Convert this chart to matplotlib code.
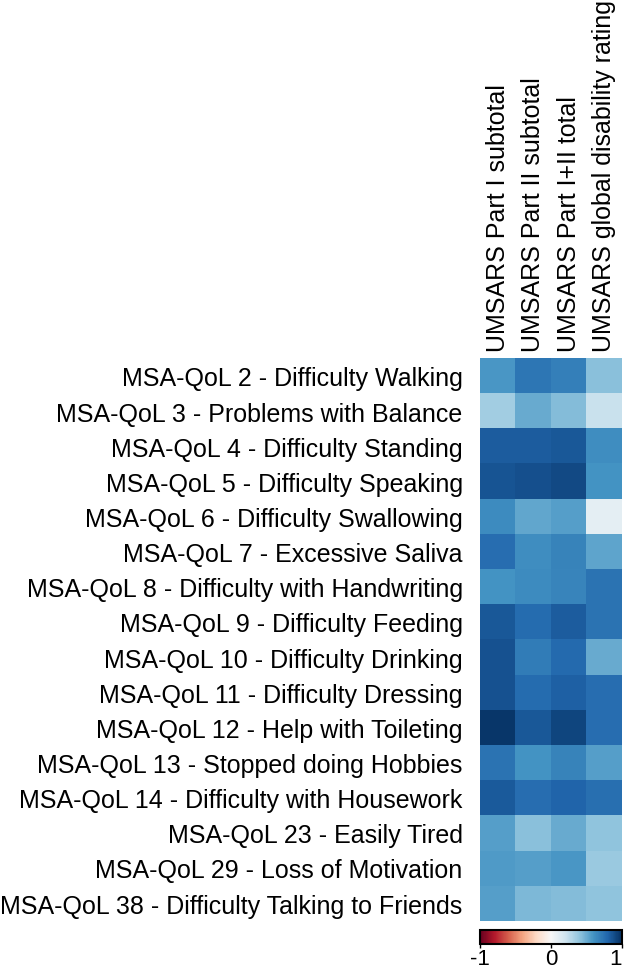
import matplotlib
matplotlib.use("Agg")
import matplotlib.pyplot as plt
import numpy as np

rows = [
    "MSA-QoL 2 - Difficulty Walking",
    "MSA-QoL 3 - Problems with Balance",
    "MSA-QoL 4 - Difficulty Standing",
    "MSA-QoL 5 - Difficulty Speaking",
    "MSA-QoL 6 - Difficulty Swallowing",
    "MSA-QoL 7 - Excessive Saliva",
    "MSA-QoL 8 - Difficulty with Handwriting",
    "MSA-QoL 9 - Difficulty Feeding",
    "MSA-QoL 10 - Difficulty Drinking",
    "MSA-QoL 11 - Difficulty Dressing",
    "MSA-QoL 12 - Help with Toileting",
    "MSA-QoL 13 - Stopped doing Hobbies",
    "MSA-QoL 14 - Difficulty with Housework",
    "MSA-QoL 23 - Easily Tired",
    "MSA-QoL 29 - Loss of Motivation",
    "MSA-QoL 38 - Difficulty Talking to Friends",
]
cols = [
    "UMSARS Part I subtotal",
    "UMSARS Part II subtotal",
    "UMSARS Part I+II total",
    "UMSARS global disability rating",
]
part1 = [0.58, 0.35, 0.83, 0.86, 0.63, 0.76, 0.60, 0.85, 0.87, 0.87, 0.97, 0.74, 0.84, 0.55, 0.57, 0.55]
part2 = [0.72, 0.50, 0.83, 0.88, 0.52, 0.62, 0.63, 0.77, 0.70, 0.77, 0.85, 0.60, 0.76, 0.42, 0.55, 0.45]
total = [0.68, 0.43, 0.85, 0.90, 0.55, 0.67, 0.66, 0.83, 0.78, 0.82, 0.92, 0.67, 0.80, 0.50, 0.58, 0.43]
globl = [0.42, 0.22, 0.62, 0.60, 0.10, 0.53, 0.74, 0.74, 0.50, 0.76, 0.76, 0.55, 0.75, 0.40, 0.37, 0.40]
cbar_ticks = [-1, 0, 1]

data = np.array([part1, part2, total, globl]).T

plt.rcParams['font.family'] = ['Liberation Sans', 'DejaVu Sans']
W, H = 624, 970
fig = plt.figure(figsize=(W / 100, H / 100), dpi=100)
FS = 18

hx0, hx1, hy0, hy1 = 480, 622, 359.3, 921.7
ax = fig.add_axes([hx0 / W, 1 - hy1 / H, (hx1 - hx0) / W, (hy1 - hy0) / H])
im = ax.imshow(data, cmap='RdBu', vmin=-1, vmax=1, aspect='auto', interpolation='nearest')
ax.set_xticks(range(len(cols)))
ax.set_xticklabels(cols, rotation=90, fontsize=FS)
ax.xaxis.tick_top()
ax.set_yticks(range(len(rows)))
ax.set_yticklabels(rows, fontsize=FS)
ax.tick_params(length=0, pad=12.5, axis='y')
ax.tick_params(length=0, pad=5, axis='x')
for s in ax.spines.values():
    s.set_visible(False)

cx0, cx1, cy0, cy1 = 480, 622, 930.5, 945
cax = fig.add_axes([cx0 / W, 1 - cy1 / H, (cx1 - cx0) / W, (cy1 - cy0) / H])
cb = fig.colorbar(im, cax=cax, orientation='horizontal', ticks=cbar_ticks)
cb.outline.set_linewidth(1.5)
cb.outline.set_edgecolor('black')
cax.tick_params(labelsize=16, length=3, width=1, pad=0)
cax.set_xticklabels(['-1', '0', '1'])
lbls = cax.get_xticklabels()
lbls[-1].set_horizontalalignment('right')

fig.savefig('out.png', dpi=100)
